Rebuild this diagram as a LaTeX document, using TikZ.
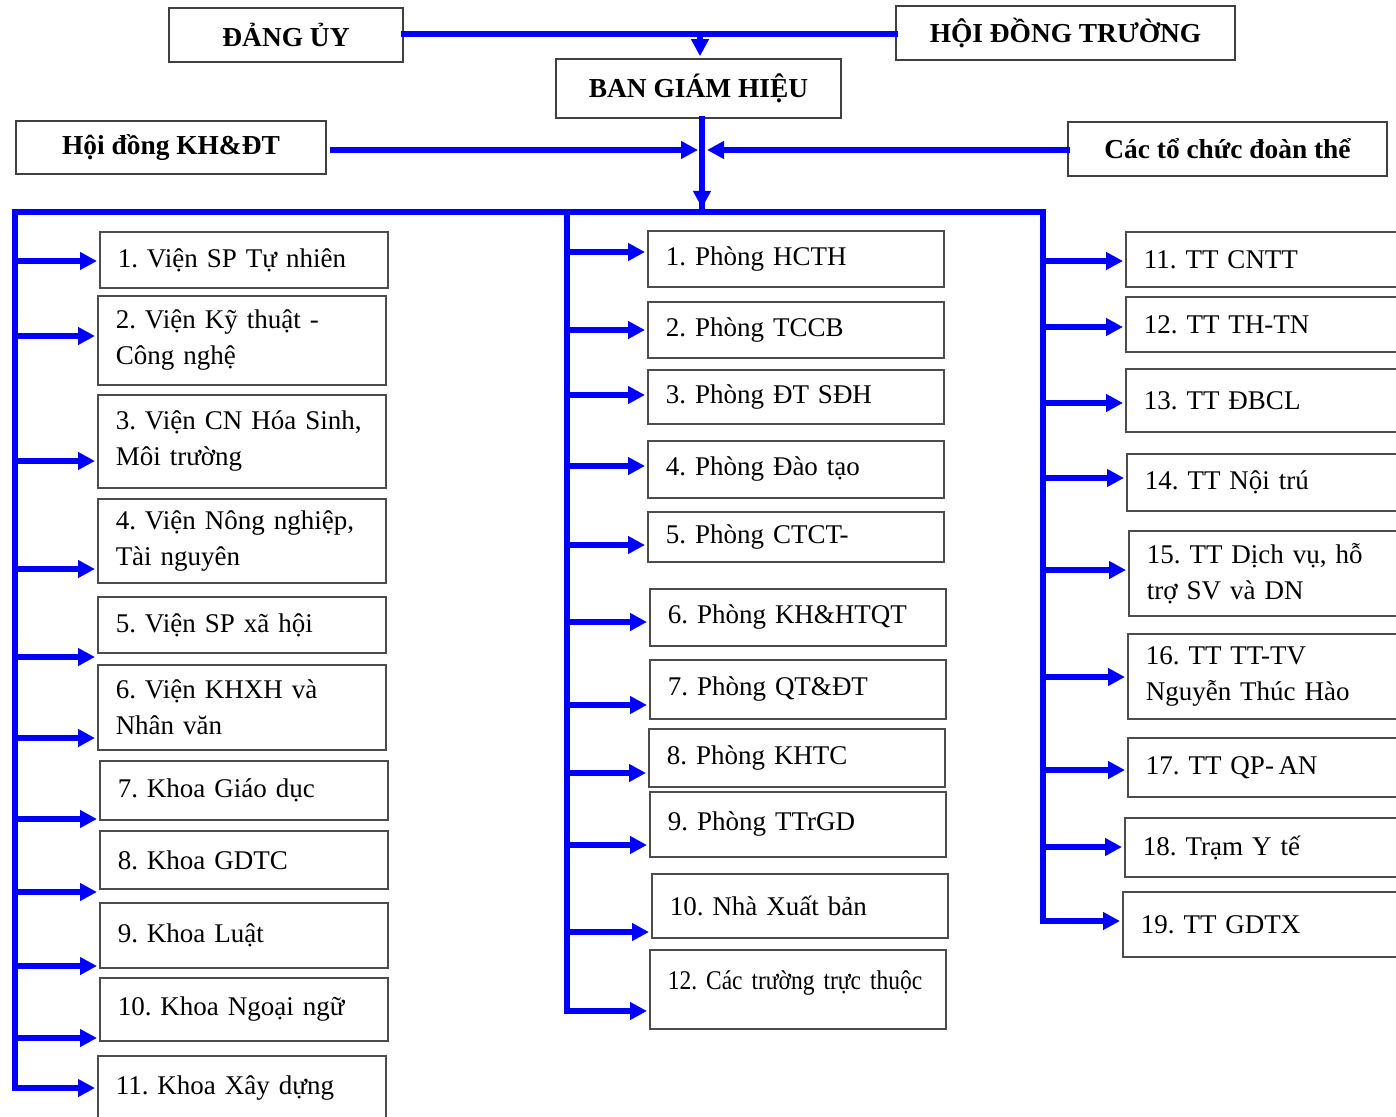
\documentclass[tikz,border=0pt]{standalone}
\usepackage{fontspec}
\setmainfont{Liberation Serif}
\newfontfamily\narrowserif[FakeStretch=0.87]{Liberation Serif}
\usetikzlibrary{arrows.meta}
\frenchspacing

\tikzset{
  head/.style={draw=black!75, line width=0.8pt, inner sep=0pt, font=\fontsize{13.7}{16}\selectfont\bfseries},
  unit/.style={draw=black!70, line width=0.75pt, anchor=west, align=left, inner xsep=9pt, inner ysep=0pt, font=\fontsize{13.5}{18}\selectfont},
  lbox/.style={unit, text width=126pt},
  mbox/.style={unit, text width=130pt},
  rbox/.style={unit, text width=122pt},
  link/.style={blue, line width=2.6pt, line cap=rect},
  tolink/.style={link, -{Triangle[length=8.5pt, width=8.5pt]}, shorten >=1pt},
}

\begin{document}
\begin{tikzpicture}[x=0.5pt, y=-0.5pt]
\useasboundingbox (0,0) rectangle (1396,1117);

% lanh dao
\node[head, minimum width=117pt, minimum height=27pt] (dangu) at (286,35) {ĐẢNG ỦY};
\node[head, minimum width=169.5pt, minimum height=27pt] (hdt) at (1065.5,33) {HỘI ĐỒNG TRƯỜNG};
\node[head, minimum width=142.5pt, minimum height=29.5pt] (ban) at (698.5,88.5) {BAN GIÁM HIỆU};
\node[head, minimum width=155pt, minimum height=26.5pt] (hdkh) at (171,147.5) {Hội đồng KH\&ĐT};
\node[head, minimum width=159.5pt, minimum height=27pt] (cactc) at (1227.5,149) {Các tổ chức đoàn thể};

% cot trai
\node[lbox, minimum height=28pt] (vien1) at (99,260) {1. Viện SP Tự nhiên};
\node[lbox, minimum height=44.5pt] (vien2) at (97,340.5) {2. Viện Kỹ thuật -\\Công nghệ};
\node[lbox, minimum height=46.5pt] (vien3) at (97,441.5) {3. Viện CN Hóa Sinh,\\Môi trường};
\node[lbox, minimum height=42pt] (vien4) at (97,541) {4. Viện Nông nghiệp,\\Tài nguyên};
\node[lbox, minimum height=28pt] (vien5) at (97,625) {5. Viện SP xã hội};
\node[lbox, minimum height=42.5pt] (vien6) at (97,707.5) {6. Viện KHXH và\\Nhân văn};
\node[lbox, minimum height=29.5pt] (khoa7) at (99,790.5) {7. Khoa Giáo dục};
\node[lbox, minimum height=29pt] (khoa8) at (99,860) {8. Khoa GDTC};
\node[lbox, minimum height=32.5pt] (khoa9) at (99,935.5) {9. Khoa Luật};
\node[lbox, minimum height=31.5pt] (khoa10) at (99,1009.5) {10. Khoa Ngoại ngữ};
\node[lbox, minimum height=32pt] (khoa11) at (97,1088) {11. Khoa Xây dựng};

% cot giua
\node[mbox, minimum height=28pt] (ph1) at (647,259) {1. Phòng HCTH};
\node[mbox, minimum height=28pt] (ph2) at (647,330) {2. Phòng TCCB};
\node[mbox, minimum height=27pt] (ph3) at (647,397) {3. Phòng ĐT SĐH};
\node[mbox, minimum height=28.5pt] (ph4) at (647,469.5) {4. Phòng Đào tạo};
\node[mbox, minimum height=25pt] (ph5) at (647,537) {5. Phòng CTCT-};
\node[mbox, minimum height=28.5pt] (ph6) at (649,617.5) {6. Phòng KH\&HTQT};
\node[mbox, minimum height=29.5pt] (ph7) at (649,689.5) {7. Phòng QT\&ĐT};
\node[mbox, minimum height=29pt] (ph8) at (648,758) {8. Phòng KHTC};
\node[mbox, minimum height=32.5pt] (ph9) at (649,824.5) {9. Phòng TTrGD};
\node[mbox, minimum height=32pt] (nxb10) at (651,906) {10. Nhà Xuất bản};
\node[mbox, minimum height=39.5pt, text depth=9pt] (tr12) at (649,989.5) {\narrowserif 12. Các trường trực thuộc};

% cot phai
\node[rbox, minimum height=27.5pt] (tt11) at (1125,259.5) {11. TT CNTT};
\node[rbox, minimum height=27.5pt] (tt12) at (1125,324.5) {12. TT TH-TN};
\node[rbox, minimum height=31.5pt] (tt13) at (1125,400.5) {13. TT ĐBCL};
\node[rbox, minimum height=28.5pt] (tt14) at (1126,482.5) {14. TT Nội trú};
\node[rbox, minimum height=42.5pt] (tt15) at (1128,573.5) {15. TT Dịch vụ, hỗ\\trợ SV và DN};
\node[rbox, minimum height=42.5pt] (tt16) at (1127,676.5) {16. TT TT-TV\\Nguyễn Thúc Hào};
\node[rbox, minimum height=29.5pt] (tt17) at (1127,767.5) {17. TT QP-\,AN};
\node[rbox, minimum height=29.5pt] (tt18) at (1124,847.5) {18. Trạm Y tế};
\node[rbox, minimum height=32.5pt] (tt19) at (1122,924.5) {19. TT GDTX};

% diem noi
\coordinate (topmid) at (700,34);
\coordinate (midKH) at (702,150);
\coordinate (busL) at (15,212);
\coordinate (busM) at (567,212);
\coordinate (busC) at (702,212);
\coordinate (busR) at (1043,212);

\coordinate (l1) at (15,261);
\coordinate (l2) at (15,336);
\coordinate (l3) at (15,461);
\coordinate (l4) at (15,569);
\coordinate (l5) at (15,657);
\coordinate (l6) at (15,738);
\coordinate (l7) at (15,819);
\coordinate (l8) at (15,892);
\coordinate (l9) at (15,966);
\coordinate (l10) at (15,1038);
\coordinate (l11) at (15,1088);

\coordinate (m1) at (567,252);
\coordinate (m2) at (567,330);
\coordinate (m3) at (567,395);
\coordinate (m4) at (567,466);
\coordinate (m5) at (567,545);
\coordinate (m6) at (567,622);
\coordinate (m7) at (567,705);
\coordinate (m8) at (567,773);
\coordinate (m9) at (567,845);
\coordinate (m10) at (567,932);
\coordinate (m11) at (567,1011);

\coordinate (r1) at (1043,261);
\coordinate (r2) at (1043,327);
\coordinate (r3) at (1043,403);
\coordinate (r4) at (1043,478);
\coordinate (r5) at (1043,570);
\coordinate (r6) at (1043,677);
\coordinate (r7) at (1043,770);
\coordinate (r8) at (1043,847);
\coordinate (r9) at (1043,921);

% noi lanh dao
\draw[link] (dangu.east |- topmid) -- (hdt.west |- topmid);
\draw[tolink] (topmid) -- (topmid |- ban.north);
\draw[tolink] ([xshift=3pt]hdkh.east |- midKH) -- ([xshift=-1pt]midKH);
\draw[tolink] (cactc.west |- midKH) -- ([xshift=1.5pt]midKH);
\draw[link] (ban.south -| busC) -- (busC);
\draw[tolink, shorten >=2pt] (ban.south -| busC) -- (busC);

% truc ngang va doc
\draw[link] (busL) -- (busR);
\draw[tolink] (busL) -- (l11) -- (l11 -| khoa11.west);
\draw[tolink] (busM) -- (m11) -- (m11 -| tr12.west);
\draw[tolink] (busR) -- (r9) -- (r9 -| tt19.west);

% mui ten cot trai
\draw[tolink] (l1) -- (l1 -| vien1.west);
\draw[tolink] (l2) -- (l2 -| vien2.west);
\draw[tolink] (l3) -- (l3 -| vien3.west);
\draw[tolink] (l4) -- (l4 -| vien4.west);
\draw[tolink] (l5) -- (l5 -| vien5.west);
\draw[tolink] (l6) -- (l6 -| vien6.west);
\draw[tolink] (l7) -- (l7 -| khoa7.west);
\draw[tolink] (l8) -- (l8 -| khoa8.west);
\draw[tolink] (l9) -- (l9 -| khoa9.west);
\draw[tolink] (l10) -- (l10 -| khoa10.west);

% mui ten cot giua
\draw[tolink] (m1) -- (m1 -| ph1.west);
\draw[tolink] (m2) -- (m2 -| ph2.west);
\draw[tolink] (m3) -- (m3 -| ph3.west);
\draw[tolink] (m4) -- (m4 -| ph4.west);
\draw[tolink] (m5) -- (m5 -| ph5.west);
\draw[tolink] (m6) -- (m6 -| ph6.west);
\draw[tolink] (m7) -- (m7 -| ph7.west);
\draw[tolink] (m8) -- (m8 -| ph8.west);
\draw[tolink] (m9) -- (m9 -| ph9.west);
\draw[tolink] (m10) -- (m10 -| nxb10.west);

% mui ten cot phai
\draw[tolink] (r1) -- (r1 -| tt11.west);
\draw[tolink] (r2) -- (r2 -| tt12.west);
\draw[tolink] (r3) -- (r3 -| tt13.west);
\draw[tolink] (r4) -- (r4 -| tt14.west);
\draw[tolink] (r5) -- (r5 -| tt15.west);
\draw[tolink] (r6) -- (r6 -| tt16.west);
\draw[tolink] (r7) -- (r7 -| tt17.west);
\draw[tolink] (r8) -- (r8 -| tt18.west);
\end{tikzpicture}
\end{document}
